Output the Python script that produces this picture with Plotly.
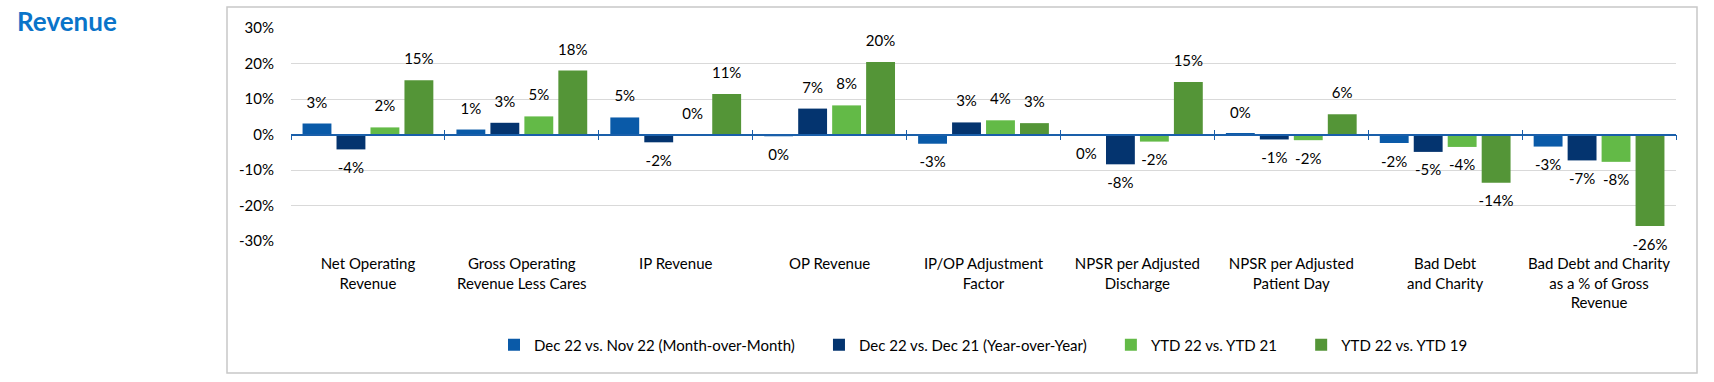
import plotly.graph_objects as go

categories = [
    "Net Operating<br>Revenue",
    "Gross Operating<br>Revenue Less Cares",
    "IP Revenue",
    "OP Revenue",
    "IP/OP Adjustment<br>Factor",
    "NPSR per Adjusted<br>Discharge",
    "NPSR per Adjusted<br>Patient Day",
    "Bad Debt<br>and Charity",
    "Bad Debt and Charity<br>as a % of Gross<br>Revenue",
]
series_names = [
    "Dec 22 vs. Nov 22 (Month-over-Month)",
    "Dec 22 vs. Dec 21 (Year-over-Year)",
    "YTD 22 vs. YTD 21",
    "YTD 22 vs. YTD 19",
]
mom = [0.031, 0.014, 0.048, -0.005, -0.026, -0.002, 0.002, -0.024, -0.034]
yoy = [-0.042, 0.033, -0.022, 0.073, 0.034, -0.084, -0.014, -0.049, -0.073]
ytd21 = [0.020, 0.051, 0.000, 0.082, 0.040, -0.020, -0.016, -0.035, -0.077]
ytd19 = [0.153, 0.180, 0.114, 0.204, 0.032, 0.148, 0.057, -0.136, -0.258]
colors = ["#0A5AA8", "#04346F", "#63BA47", "#549537"]
y_ticks = [-0.3, -0.2, -0.1, 0.0, 0.1, 0.2, 0.3]
y_tick_text = ["-30%", "-20%", "-10%", "0%", "10%", "20%", "30%"]

FONT = "Lato"
BARGAP = 0.117


def fmt(v):
    r = round(v * 100)
    if r == 0:
        r = 0
    return f"{r}%"


fig = go.Figure()
all_series = [mom, yoy, ytd21, ytd19]
pads = [5, 5, 5, 0]
for i, (name, vals, col) in enumerate(zip(series_names, all_series, colors)):
    fig.add_trace(go.Bar(
        x=categories, y=vals, name=name + "\u00a0" * pads[i], marker_color=col,
        marker_line_width=0, offsetgroup=str(i), hoverinfo="y",
    ))
for i, vals in enumerate(all_series):
    fig.add_trace(go.Scatter(
        x=categories, y=vals, mode="markers+text", offsetgroup=str(i),
        marker=dict(size=18, color="rgba(0,0,0,0)"),
        text=[fmt(v) for v in vals],
        textposition=["top center" if v >= 0 else "bottom center" for v in vals],
        textfont=dict(family=FONT, size=15, color="#000000"),
        cliponaxis=False, showlegend=False, hoverinfo="skip",
    ))

W, H = 1714, 382
ml, mr, mt, mb = 291, 38, 28, 141
pw, ph = W - ml - mr, H - mt - mb


def px_x(px):
    return (px - ml) / pw


def px_y(py):
    return (H - mb - py) / ph


fig.update_layout(
    width=W, height=H,
    margin=dict(l=ml, r=mr, t=mt, b=mb, autoexpand=False),
    paper_bgcolor="white", plot_bgcolor="white",
    barmode="group", bargap=BARGAP, bargroupgap=0.15,
    scattermode="group", scattergap=BARGAP,
    font=dict(family=FONT, size=15, color="#000000"),
    showlegend=True,
    legend=dict(orientation="h", x=0.5, xanchor="center", y=px_y(345), yanchor="middle",
                font=dict(family=FONT, size=15), traceorder="normal"),
    xaxis=dict(type="category", showline=False, ticks="", showgrid=False,
               tickfont=dict(family=FONT, size=15), ticklabelstandoff=12,
               zeroline=False, automargin=False),
    xaxis2=dict(type="category", overlaying="x", anchor="free", position=0.5,
                categoryarray=categories, categoryorder="array",
                range=[-0.5, len(categories) - 0.5],
                showline=True, linecolor="#1A5FAA", linewidth=1.5,
                ticks="outside", ticklen=5, tickcolor="#1A5FAA", tickwidth=1.2,
                tickson="boundaries", showticklabels=False, showgrid=False,
                side="bottom", automargin=False),
    xaxis3=dict(type="category", overlaying="x", anchor="free", position=0.5,
                categoryarray=categories, categoryorder="array",
                range=[-0.5, len(categories) - 0.5],
                showline=False,
                ticks="inside", ticklen=5, tickcolor="#1A5FAA", tickwidth=1.2,
                tickson="boundaries", showticklabels=False, showgrid=False,
                side="bottom", automargin=False),
    yaxis=dict(range=[-0.3, 0.3], tickvals=y_ticks, ticktext=y_tick_text,
               showgrid=True, gridcolor="#D9D9D9", gridwidth=1,
               zeroline=False, showline=False, ticks="",
               tickfont=dict(family=FONT, size=15), ticklabelstandoff=16,
               automargin=False),
)

# invisible helper traces so the overlay axes render
for ax in ["x2", "x3"]:
    fig.add_trace(go.Scatter(x=categories, y=[0] * len(categories), xaxis=ax, yaxis="y",
                             mode="markers", marker=dict(opacity=0), showlegend=False,
                             hoverinfo="skip"))

# chart border
fig.add_shape(type="rect", xref="paper", yref="paper",
              x0=px_x(227), x1=px_x(1697), y0=px_y(373), y1=px_y(7),
              line=dict(color="#C8C8C8", width=1.5), fillcolor="rgba(0,0,0,0)", layer="below")

fig.add_annotation(text="<b>Revenue</b>", xref="paper", yref="paper",
                   x=px_x(15), y=px_y(21), xanchor="left", yanchor="middle",
                   showarrow=False, font=dict(family=FONT, size=26, color="#0A74C9"))

fig.write_html("out.html", config={"displayModeBar": False},
               post_script="document.body.style.margin='0';document.body.style.overflow='hidden';")
